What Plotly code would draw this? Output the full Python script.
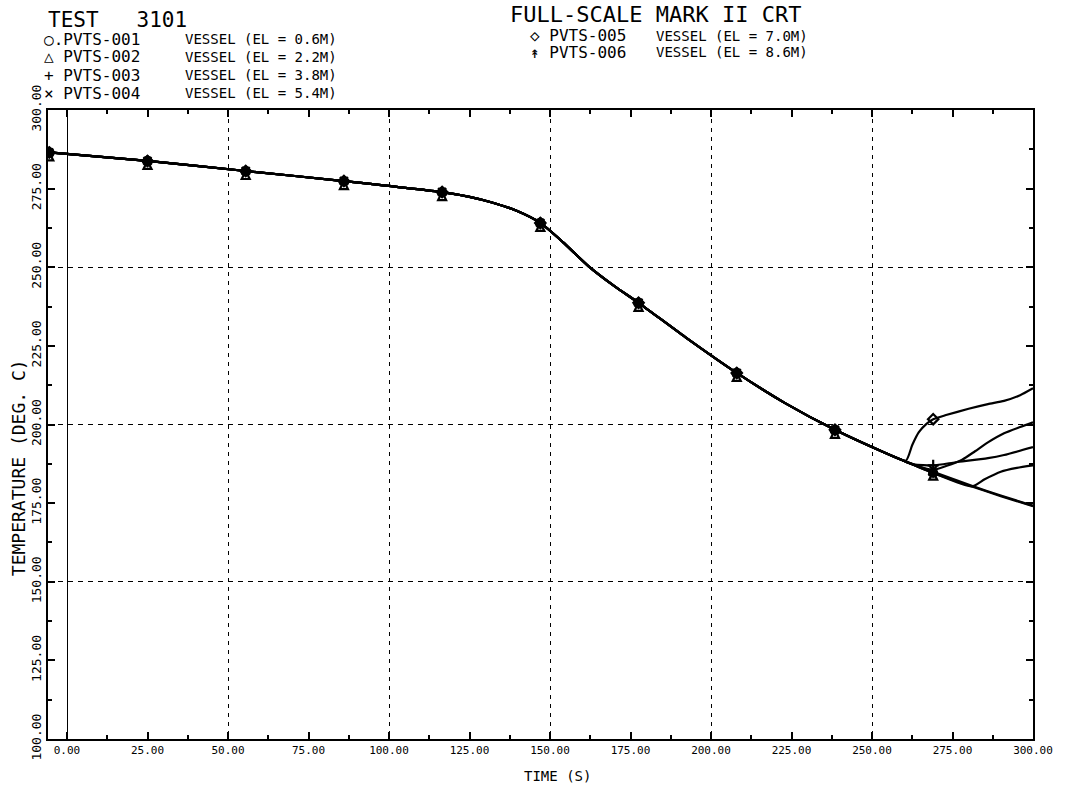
import plotly.graph_objects as go

# ---------------- data ----------------
time_common = [-5.5, 25, 55.5, 86, 116.5, 125, 132, 140, 147, 154, 162, 170, 177.5,
               192, 208, 223, 238.5, 254]
temp_common = [286.5, 283.8, 280.6, 277.4, 273.9, 272.4, 270.6, 267.8, 264.1, 258.0,
               250.3, 244.0, 238.7, 227.8, 216.4, 206.8, 198.3, 191.0]

s001_time = [260.5, 269, 281, 290, 300]
s001_temp = [188.2, 184.6, 180.3, 177.2, 174.0]
s002_time = [260.5, 269, 281, 285, 290, 295, 300]
s002_temp = [188.2, 184.6, 180.3, 182.6, 185.0, 186.2, 187.0]
s003_time = [260.5, 263, 269, 276, 286, 291, 300]
s003_temp = [188.2, 187.3, 187.0, 188.0, 189.3, 190.3, 192.8]
s004_time = [260.5, 265, 269, 273, 278, 282, 286, 291, 296, 300]
s004_temp = [188.2, 186.5, 185.6, 186.8, 188.8, 191.5, 194.3, 197.2, 199.2, 200.7]
s005_time = [260.5, 262.5, 264.5, 267, 269, 273, 280, 286, 291, 296, 300]
s005_temp = [188.5, 193.5, 197.5, 200.3, 201.7, 203.0, 205.0, 206.5, 207.5, 209.3, 211.5]
s006_time = [260.5, 269, 281, 290, 300]
s006_temp = [188.2, 185.0, 180.5, 177.4, 174.2]

marker_times = [-5.5, 25, 55.5, 86, 116.5, 147, 177.5, 208, 238.5, 269]

series_names = ["PVTS-001", "PVTS-002", "PVTS-003", "PVTS-004", "PVTS-005", "PVTS-006"]
series_desc = ["VESSEL (EL = 0.6M)", "VESSEL (EL = 2.2M)", "VESSEL (EL = 3.8M)",
               "VESSEL (EL = 5.4M)", "VESSEL (EL = 7.0M)", "VESSEL (EL = 8.6M)"]
x_ticks = [0, 25, 50, 75, 100, 125, 150, 175, 200, 225, 250, 275, 300]
y_ticks = [100, 125, 150, 175, 200, 225, 250, 275, 300]

# ---------------- figure ----------------
tails = [(s001_time, s001_temp), (s002_time, s002_temp), (s003_time, s003_temp),
         (s004_time, s004_temp), (s005_time, s005_temp), (s006_time, s006_temp)]
symbols = ["circle-open", "triangle-up-open", "cross-thin-open", "x-thin-open",
           "diamond-open", "arrow-up-open"]
legend_glyph = ["○.", "△ ", "+ ", "× ", "◇ ", "↟ "]

fig = go.Figure()
# empty trace for the overlay grid axes
fig.add_trace(go.Scatter(x=[], y=[], xaxis="x2", yaxis="y2", showlegend=False))

for i, (tt, vv) in enumerate(tails):
    t = time_common + tt
    v = temp_common + vv
    fig.add_trace(go.Scatter(x=t, y=v, mode="lines",
                             line=dict(color="black", width=2.2, shape="spline",
                                       smoothing=0.6),
                             name=series_names[i], showlegend=False,
                             hoverinfo="skip"))
    mt = [a for a in t if a in marker_times]
    mv = [b for a, b in zip(t, v) if a in marker_times]
    fig.add_trace(go.Scatter(x=mt, y=mv, mode="markers",
                             marker=dict(symbol=symbols[i], size=8, color="black",
                                         line=dict(color="black", width=2.2)),
                             showlegend=False, hoverinfo="skip"))

FONT = "DejaVu Sans Mono"
ann = []
ann.append(dict(text="TEST   3101", x=46, y=19.5, size=21))
ann.append(dict(text="FULL-SCALE MARK II CRT", x=510, y=14, size=22))
left_rows = [39, 57, 75, 93]
for i in range(4):
    ann.append(dict(text=legend_glyph[i] + series_names[i], x=42, y=left_rows[i], size=16))
    ann.append(dict(text=series_desc[i], x=184, y=left_rows[i], size=14))
right_rows = [36, 52]
for k, i in enumerate([4, 5]):
    ann.append(dict(text=legend_glyph[i] + series_names[i], x=530, y=right_rows[k], size=16))
    ann.append(dict(text=series_desc[i], x=657, y=right_rows[k], size=14))

L, R, T, B = 48, 27, 110, 48
W, H = 1065, 787
pw, ph = W - L - R, H - T - B

annotations = []
for a in ann:
    annotations.append(dict(text=a["text"], x=(a["x"] - L) / pw, y=1 - (a["y"] - T) / ph,
                            xref="paper", yref="paper", xanchor="left", yanchor="middle",
                            showarrow=False,
                            font=dict(family=FONT, color="black", size=a["size"])))
# axis titles
annotations.append(dict(text="TEMPERATURE (DEG. C)", x=(18 - L) / pw, y=1 - (468 - T) / ph,
                        xref="paper", yref="paper",
                        showarrow=False, textangle=-90, xanchor="center", yanchor="middle",
                        font=dict(family=FONT, size=18, color="black")))
annotations.append(dict(text="TIME (S)", x=(560 - L) / pw, y=1 - (776 - T) / ph,
                        xref="paper", yref="paper",
                        showarrow=False, xanchor="center", yanchor="middle",
                        font=dict(family=FONT, size=14, color="black")))

axis_common = dict(showline=True, linecolor="black", linewidth=2, mirror="ticks",
                   ticks="inside", ticklen=7, tickcolor="black", tickwidth=1.5,
                   showgrid=False, zeroline=False, tickformat=".2f")

fig.update_layout(
    width=W, height=H,
    margin=dict(l=L, r=R, t=T, b=B),
    paper_bgcolor="white", plot_bgcolor="white",
    showlegend=False,
    annotations=annotations,
    xaxis=dict(range=[-5.9, 300], tickvals=x_ticks, **axis_common,
               tickfont=dict(family=FONT, size=11, color="black"),
               minor=dict(ticks="inside", ticklen=4, dtick=12.5, tickcolor="black")),
    yaxis=dict(range=[100, 300], tickvals=y_ticks, tickangle=-90, **axis_common,
               tickfont=dict(family=FONT, size=13, color="black"),
               minor=dict(ticks="inside", ticklen=4, dtick=12.5, tickcolor="black")),
    xaxis2=dict(range=[-5.9, 300], overlaying="x", dtick=50, tick0=0,
                showgrid=True, gridcolor="black", gridwidth=1, griddash="4px,5px",
                zeroline=True, zerolinecolor="black", zerolinewidth=1.2,
                showticklabels=False, ticks="", side="top", showline=False),
    yaxis2=dict(range=[100, 300], overlaying="y", dtick=50, tick0=0,
                showgrid=True, gridcolor="black", gridwidth=1, griddash="5px,5px",
                zeroline=False, showticklabels=False, ticks="", side="right",
                showline=False),
)

fig.write_html("out.html")
